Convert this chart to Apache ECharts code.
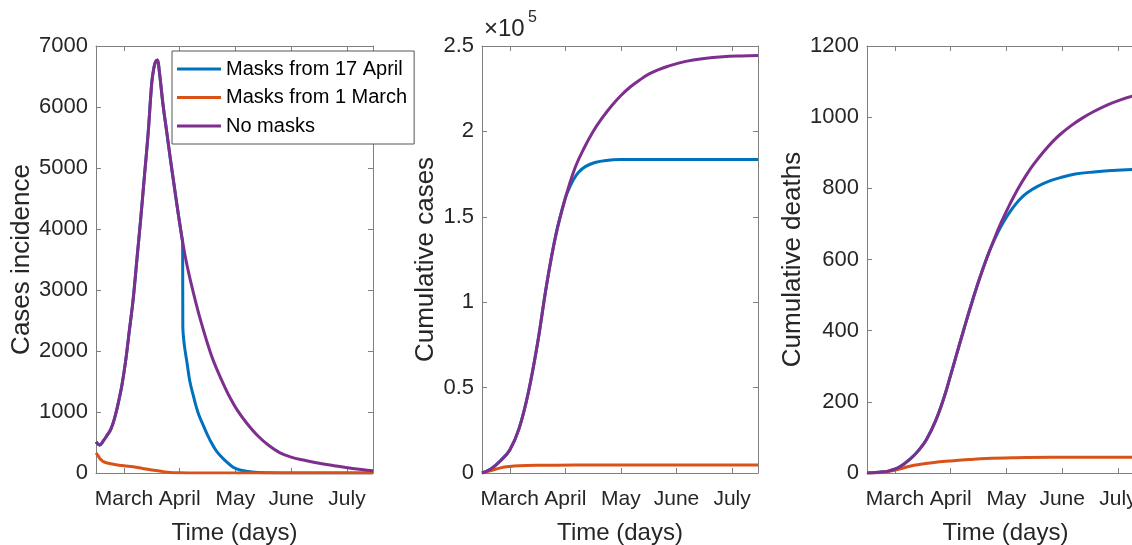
<!DOCTYPE html>
<html><head><meta charset="utf-8">
<script src="https://cdn.jsdelivr.net/npm/echarts@6/dist/echarts.min.js"></script>
<style>html,body{margin:0;padding:0;background:#fff}#c{width:1132px;height:545px}</style>
</head><body><div id="c"></div>
<script>
// ---- axis ticks / labels ----
const monthTicks = [15, 45, 75, 105, 135];
const monthLabels = ['March', 'April', 'May', 'June', 'July'];
const seriesNames = ['Masks from 17 April', 'Masks from 1 March', 'No masks'];
const seriesColors = ['#0072BD', '#D95319', '#7E2F8E'];

// ---- Panel 1: cases incidence ----
const incDaysNoMask = [0,2,4,6,8,10,12,14,16,18,20,22,24,26,28,30,31,32,33,34,36,38,40,42,44,46,48,50,53,56,60,63,67,71,76,81,87,93,99,105,110,120,128,138,149];
const incNoMask = [510,460,530,620,720,900,1150,1450,1850,2350,2850,3500,4150,4850,5550,6400,6620,6740,6770,6600,6050,5600,5150,4720,4300,3900,3550,3260,2880,2530,2120,1850,1560,1300,1030,820,610,450,330,260,220,160,120,75,38];
const incSplitDay = 46;
const incDaysApril = [46.6,46.7,47.5,49,50.5,52.5,55,58,61,65,70,74,78,84,92,105,149];
const incApril = [3760,2400,2100,1800,1500,1250,980,760,560,350,190,90,45,15,4,1,0];
const incDaysMarch = [0,1,2,3,4,6,10,15,20,25,30,35,40,45,50,60,149];
const incMarch = [330,290,240,210,185,165,140,118,102,75,48,27,10,4,1,0,0];

// ---- Panel 2: cumulative cases ----
const cumDaysNoMask = [0,5,10,15,20,25,30,35,40,45,50,55,60,65,70,75,80,85,90,95,100,110,120,130,140,149];
const cumNoMask = [0,2500,7200,13500,26000,47000,76000,111000,140000,161000,178000,190000,200000,208000,215000,221000,226000,230000,233500,236000,238000,241000,242700,243700,244200,244500];
const cumSplitDay = 45;
const cumDaysApril = [47,49,52,56,61,67,75,90,149];
const cumApril = [166500,171000,176000,179500,181800,183000,183500,183600,183600];
const cumDaysMarch = [0,5,10,15,20,30,40,60,149];
const cumMarch = [0,1500,3000,3800,4200,4500,4600,4700,4700];

// ---- Panel 3: cumulative deaths ----
const deathDaysNoMask = [0,6,12,17,23,28,32,37,41,45,48,52,56,60,64,68,72,77,81,86,90,95,100,104,110,116,122,130,136,142.7,149];
const deathNoMask = [0,2,6,15,38,65,94,148,205,275,330,402,472,538,598,652,702,757,797,840,870,903,932,952,977,998,1016,1036,1048,1059,1067];
const deathSplitDay = 64;
const deathDaysApril = [66,70,73.5,78,82,86,92,98,104,112,122,132,142.7,149];
const deathApril = [625,672,706,742,768,787,806,820,830,840,846,850,853,854];
const deathDaysMarch = [0,6,12,18,23,28,35,45,55,64,80,100,149];
const deathMarch = [0,1,5,12,19,24,29,34,38,41,43,44,44];

const FONT = 'Liberation Sans, Arial, sans-serif';
const AX = '#808080';
const TXT = '#262626';

function zip(xs, ys) { return xs.map((x, i) => [x, ys[i]]); }
function withPrefix(baseX, baseY, splitDay, xs, ys) {
  const pre = zip(baseX, baseY).filter(p => p[0] <= splitDay);
  return pre.concat(zip(xs, ys));
}

const panels = [
  { left: 96, width: 277, ymax: 7000, yint: 1000, yname: 'Cases incidence', ygap: 60, fmt: v => String(v),
    april: withPrefix(incDaysNoMask, incNoMask, incSplitDay, incDaysApril, incApril),
    march: zip(incDaysMarch, incMarch), none: zip(incDaysNoMask, incNoMask) },
  { left: 482, width: 276, ymax: 250000, yint: 50000, yname: 'Cumulative cases', ygap: 43, fmt: v => String(v / 1e5),
    april: withPrefix(cumDaysNoMask, cumNoMask, cumSplitDay, cumDaysApril, cumApril),
    march: zip(cumDaysMarch, cumMarch), none: zip(cumDaysNoMask, cumNoMask) },
  { left: 867, width: 277, ymax: 1200, yint: 200, yname: 'Cumulative deaths', ygap: 60, fmt: v => String(v),
    april: withPrefix(deathDaysNoMask, deathNoMask, deathSplitDay, deathDaysApril, deathApril),
    march: zip(deathDaysMarch, deathMarch), none: zip(deathDaysNoMask, deathNoMask) }
];

const grid = [], xAxis = [], yAxis = [], series = [];
panels.forEach((p, g) => {
  grid.push({ left: p.left, top: 46, width: p.width, height: 427, outerBoundsMode: 'none', containLabel: false });
  const lineStyle = { color: AX, width: 1 };
  const tick = { show: true, inside: true, length: 5, customValues: monthTicks, lineStyle: { color: AX } };
  xAxis.push({
    type: 'value', gridIndex: g, min: 0, max: 149, position: 'bottom',
    axisLine: { show: true, onZero: false, lineStyle },
    axisTick: tick,
    axisLabel: { customValues: monthTicks, formatter: v => monthLabels[monthTicks.indexOf(v)] || '',
      fontSize: 21, color: TXT, margin: 16, fontFamily: FONT },
    splitLine: { show: false },
    name: 'Time (days)', nameLocation: 'middle', nameGap: 48,
    nameTextStyle: { fontSize: 24, color: TXT, fontFamily: FONT }
  });
  xAxis.push({
    type: 'value', gridIndex: g, min: 0, max: 149, position: 'top',
    axisLine: { show: true, onZero: false, lineStyle },
    axisTick: tick, axisLabel: { show: false }, splitLine: { show: false }
  });
  const ytick = { show: true, inside: true, length: 5, lineStyle: { color: AX } };
  yAxis.push({
    type: 'value', gridIndex: g, min: 0, max: p.ymax, interval: p.yint, position: 'left',
    axisLine: { show: true, onZero: false, lineStyle },
    axisTick: ytick,
    axisLabel: { formatter: p.fmt, fontSize: 22, color: TXT, margin: 8, fontFamily: FONT },
    splitLine: { show: false },
    name: p.yname, nameLocation: 'middle', nameGap: p.ygap, nameRotate: 90,
    nameTextStyle: { fontSize: 26, color: TXT, fontFamily: FONT }
  });
  yAxis.push({
    type: 'value', gridIndex: g, min: 0, max: p.ymax, interval: p.yint, position: 'right',
    axisLine: { show: true, onZero: false, lineStyle },
    axisTick: ytick, axisLabel: { show: false }, splitLine: { show: false }
  });
  const data = [p.april, p.march, p.none];
  data.forEach((d, i) => {
    series.push({
      type: 'line', name: seriesNames[i], xAxisIndex: 2 * g, yAxisIndex: 2 * g,
      data: d, symbol: 'none', smooth: 0.4,
      color: seriesColors[i], lineStyle: { width: 3, color: seriesColors[i] }, z: 2 + i
    });
  });
});

const chart = echarts.init(document.getElementById('c'), null, { renderer: 'canvas' });
chart.setOption({
  animation: false,
  backgroundColor: '#fff',
  textStyle: { fontFamily: FONT },
  grid, xAxis, yAxis, series,
  legend: {
    data: seriesNames, orient: 'vertical', left: 172, top: 51,
    padding: [8, 7, 8, 5], itemGap: 8.5, itemWidth: 44, itemHeight: 3, icon: 'rect',
    backgroundColor: '#fff', borderColor: '#555', borderWidth: 1,
    textStyle: { fontSize: 20, color: '#000', fontFamily: FONT }, z: 10
  },
  graphic: [
    { type: 'text', left: 484, top: 17, style: { text: '×10', fontSize: 24, fill: TXT, fontFamily: FONT } },
    { type: 'text', left: 528, top: 10, style: { text: '5', fontSize: 16, fill: TXT, fontFamily: FONT } }
  ]
});
</script></body></html>
